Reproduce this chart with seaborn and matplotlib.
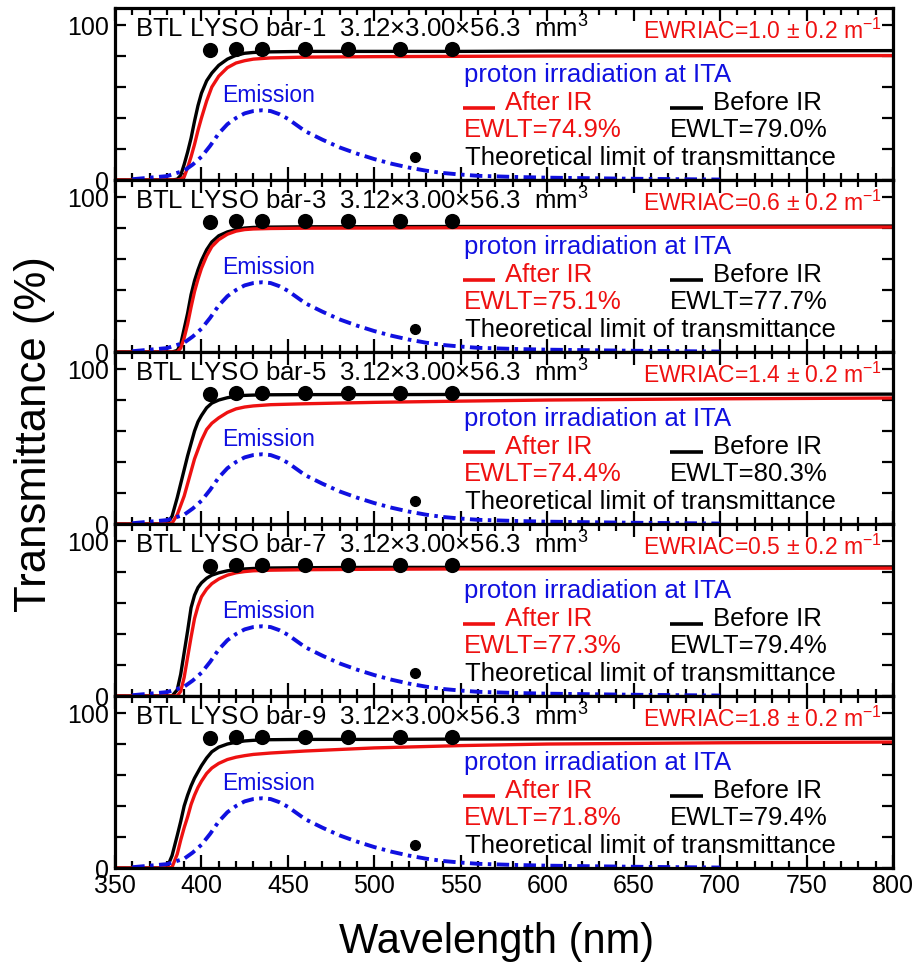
import numpy as np
import pandas as pd
import matplotlib
matplotlib.use("Agg")
import matplotlib.pyplot as plt
from matplotlib.ticker import MultipleLocator, FixedLocator, FuncFormatter
import seaborn as sns

# ---------------- data ----------------
bars = ["bar-1", "bar-3", "bar-5", "bar-7", "bar-9"]
ewriac = ["1.0", "0.6", "1.4", "0.5", "1.8"]
ewlt_after = ["74.9", "75.1", "74.4", "77.3", "71.8"]
ewlt_before = ["79.0", "77.7", "80.3", "79.4", "79.4"]

wl_t = [350, 380, 383, 386, 388, 390, 392, 394, 396, 398, 400, 403, 406,
        410, 415, 420, 425, 430, 440, 460, 500, 550, 600, 700, 800]

before_1 = [0, 0, 0, 0.5, 3, 10, 18, 27, 38, 48, 56, 64, 69,
            74, 78, 80.5, 81.8, 82.3, 82.7, 83, 83, 83, 83.2, 83.3, 83.5]
after_1 = [0, 0, 0, 0, 0.5, 2, 8, 15, 23, 32, 40, 51, 60,
           67, 72.5, 75.5, 77, 78, 78.8, 79.3, 79.6, 79.8, 80, 80.2, 80.3]

before_3 = [0, 0, 0, 1, 5, 15, 25, 37, 46, 53, 59, 66, 71,
            75, 77.5, 79, 80, 80.4, 80.6, 80.8, 80.9, 81, 81, 81.2, 81.3]
after_3 = [0, 0, 0, 0, 2.5, 9, 18, 29, 39, 47, 54, 62, 68,
           72.5, 76, 78, 79, 79.4, 79.7, 79.9, 80, 80.2, 80.3, 80.5, 80.6]

before_5 = [0, 0, 5, 17, 26, 35, 44, 52, 60, 66, 70, 75, 78,
            80, 81.5, 82.5, 83, 83.2, 83.4, 83.5, 83.5, 83.6, 83.6, 83.7, 83.8]
after_5 = [0, 0, 0.5, 6, 12, 18, 26, 34, 42, 48, 54, 61, 65,
           68.5, 72, 74.3, 75.5, 76.2, 77, 77.6, 78.5, 79.3, 80, 80.8, 81.3]

before_7 = [0, 0, 0, 4, 14, 28, 42, 57, 65, 70, 73, 76, 78,
            79.5, 80.8, 81.5, 82, 82.3, 82.6, 82.8, 83, 83, 83.1, 83.2, 83.3]
after_7 = [0, 0, 0, 0, 3, 12, 25, 38, 50, 58, 64, 69, 72.5,
           75.5, 78, 79.5, 80.3, 80.8, 81.2, 81.5, 81.8, 82, 82.1, 82.3, 82.5]

before_9 = [0, 0, 8, 21, 30, 40, 47, 53, 58, 62, 66, 71, 75,
            78, 80, 81.2, 82, 82.4, 82.8, 83, 83, 83.2, 83.3, 83.5, 83.7]
after_9 = [0, 0, 0.5, 9, 18, 26, 33, 41, 47, 52, 56, 61, 64.5,
           67.5, 70, 71.5, 72.5, 73.3, 74.2, 75.5, 77.5, 79, 80, 80.8, 81.3]

before_all = [before_1, before_3, before_5, before_7, before_9]
after_all = [after_1, after_3, after_5, after_7, after_9]

wl_em = [360, 365, 370, 380, 390, 395, 400, 405, 410, 415, 420, 425, 430, 435,
         440, 445, 450, 455, 460, 470, 480, 490, 500, 510, 520, 530, 540, 550,
         560, 580, 600, 650, 700]
emission = [0.5, 1, 1.5, 2.5, 6, 10, 15, 22, 30, 36, 40, 43, 44.5, 45,
            44.5, 42.5, 39.5, 35.5, 31.5, 26, 21, 17, 13.5, 10.5, 8, 6, 4.5,
            3.5, 2.7, 2, 1.5, 0.8, 0.3]

theo_wl = [405, 420, 435, 460, 485, 515, 545]
theo_T = [84.2, 84.3, 84.3, 84.4, 84.4, 84.5, 84.5]

# ---------------- style ----------------
sns.set_theme(style="ticks")
plt.rcParams["font.family"] = ["Liberation Sans", "DejaVu Sans"]
plt.rcParams["mathtext.fontset"] = "custom"
plt.rcParams["mathtext.rm"] = "Liberation Sans"
plt.rcParams["mathtext.it"] = "Liberation Sans:italic"
plt.rcParams["mathtext.bf"] = "Liberation Sans:bold"
plt.rcParams["text.color"] = "black"
plt.rcParams["xtick.color"] = "black"
plt.rcParams["ytick.color"] = "black"
plt.rcParams["xtick.labelcolor"] = "black"
plt.rcParams["ytick.labelcolor"] = "black"

fig = plt.figure(figsize=(9.24, 9.65), dpi=100)
gs = fig.add_gridspec(5, 1, left=115/924, right=893/924,
                      top=1-8/965, bottom=1-868/965, hspace=0)
axes = [fig.add_subplot(gs[i]) for i in range(5)]

blue = "#1010e0"
red = "#ee1111"

for i, ax in enumerate(axes):
    df = pd.DataFrame({
        "wl": wl_t * 2,
        "T": before_all[i] + after_all[i],
        "kind": ["Before IR"] * len(wl_t) + ["After IR"] * len(wl_t),
    })
    sns.lineplot(data=df, x="wl", y="T", hue="kind",
                 hue_order=["Before IR", "After IR"],
                 palette={"Before IR": "black", "After IR": red},
                 estimator=None, legend=False, linewidth=2.4, ax=ax)
    sns.lineplot(x=wl_em, y=emission, color=blue, linewidth=2.8,
                 linestyle=(0, (3.2, 1.4, 0.9, 1.4)), estimator=None, ax=ax)
    sns.scatterplot(x=theo_wl, y=theo_T, color="black", s=120,
                    edgecolor="black", linewidth=0, zorder=6, ax=ax)

    ax.set_xlim(350, 800)
    ax.set_ylim(0, 111)
    ax.set_xlabel("")
    ax.set_ylabel("")

    ax.xaxis.set_major_locator(MultipleLocator(50))
    ax.xaxis.set_minor_locator(MultipleLocator(10))
    ax.yaxis.set_major_locator(FixedLocator([0, 20, 40, 60, 80, 100]))
    ax.yaxis.set_major_formatter(
        FuncFormatter(lambda v, p: f"{int(v)}" if v in (0, 100) else ""))
    ax.tick_params(axis="both", which="both", direction="in",
                   top=True, right=True, width=1.6, labelsize=18, pad=4,
                   color="black", labelcolor="black")
    ax.tick_params(axis="x", which="major", length=9.5)
    ax.tick_params(axis="x", which="minor", length=5)
    ax.tick_params(axis="y", which="major", length=8)
    if i < 4:
        ax.tick_params(axis="x", which="both", labelbottom=False)
    for s in ax.spines.values():
        s.set_linewidth(2.3)
        s.set_color("black")

    # texts
    ax.text(0.026, 0.826,
            f"BTL LYSO {bars[i]}  3.12\u00d73.00\u00d756.3  mm$^{{3}}$",
            transform=ax.transAxes, fontsize=18.5, color="black",
            ha="left", va="baseline")
    ax.text(0.986, 0.820,
            f"EWRIAC={ewriac[i]} \u00b1 0.2 m$^{{-1}}$",
            transform=ax.transAxes, fontsize=16.5, color=red,
            ha="right", va="baseline")
    ax.text(0.448, 0.571, "proton irradiation at ITA",
            transform=ax.transAxes, fontsize=18.5, color=blue,
            ha="left", va="baseline")
    ax.plot([0.447, 0.488], [0.418, 0.418], color=red, lw=2.6,
            transform=ax.transAxes, solid_capstyle="butt")
    ax.text(0.501, 0.407, "After IR", transform=ax.transAxes,
            fontsize=18.5, color=red, ha="left", va="baseline")
    ax.plot([0.713, 0.756], [0.418, 0.418], color="black", lw=2.6,
            transform=ax.transAxes, solid_capstyle="butt")
    ax.text(0.769, 0.407, "Before IR", transform=ax.transAxes,
            fontsize=18.5, color="black", ha="left", va="baseline")
    ax.text(0.448, 0.252, f"EWLT={ewlt_after[i]}%", transform=ax.transAxes,
            fontsize=18.5, color=red, ha="left", va="baseline")
    ax.text(0.713, 0.252, f"EWLT={ewlt_before[i]}%", transform=ax.transAxes,
            fontsize=18.5, color="black", ha="left", va="baseline")
    ax.text(0.450, 0.087, "Theoretical limit of transmittance",
            transform=ax.transAxes, fontsize=18.5, color="black",
            ha="left", va="baseline")
    ax.plot([0.386], [0.135], marker="o", color="black", markersize=7,
            transform=ax.transAxes, linestyle="none")
    ax.text(0.197, 0.455, "Emission", transform=ax.transAxes,
            fontsize=16.5, color=blue, ha="center", va="baseline")

fig.text(35/924, 1-434/965, "Transmittance (%)", rotation=90,
         fontsize=31.5, ha="center", va="center", color="black")
fig.text(497/924, 1-942/965, "Wavelength (nm)",
         fontsize=30, ha="center", va="center", color="black")

fig.savefig("out.png", dpi=100, facecolor="white")
